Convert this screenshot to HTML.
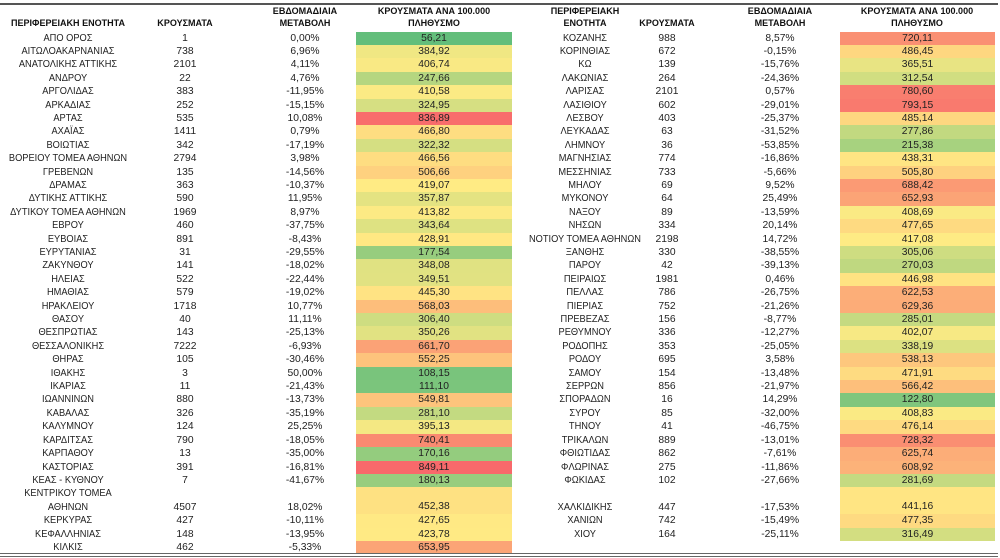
<!DOCTYPE html>
<html><head><meta charset="utf-8"><style>
html,body{margin:0;padding:0;background:#fff;}
body{width:1000px;height:558px;position:relative;overflow:hidden;font-family:"Liberation Sans Narrow","Liberation Sans","DejaVu Sans",sans-serif;color:#222;}
.top{position:absolute;left:0;top:3px;width:998px;height:2px;background:#555;}
.bot{position:absolute;left:0;top:553px;width:998px;height:1px;background:#666;}
.bot2{position:absolute;left:0;top:556px;width:998px;height:1px;background:#666;}
.h{position:absolute;font-weight:bold;font-size:9.5px;text-align:center;line-height:12px;color:#111;width:160px;transform:scaleX(0.95);}
#rows{position:absolute;left:0;top:31.5px;width:1000px;}
.r{position:relative;height:13.42px;font-size:10.3px;line-height:13.42px;}
.r span{position:absolute;top:0;width:150px;text-align:center;white-space:nowrap;}
.a,.e{transform:scaleX(0.9);}
.a{left:-7px}.b{left:110px}.d{left:230px}
.e{left:510px}.f{left:592px}.g{left:705px}
.c{left:356px;width:156px!important;}
.k{left:840px;width:155px!important;}
.c2{height:26.84px;line-height:40px;}
</style></head><body>
<div class="top"></div>
<div class="h" style="left:-12px;top:18px">ΠΕΡΙΦΕΡΕΙΑΚΗ ΕΝΟΤΗΤΑ</div>
<div class="h" style="left:105px;top:18px">ΚΡΟΥΣΜΑΤΑ</div>
<div class="h" style="left:225px;top:6px">ΕΒΔΟΜΑΔΙΑΙΑ<br>ΜΕΤΑΒΟΛΗ</div>
<div class="h" style="left:354px;top:6px">ΚΡΟΥΣΜΑΤΑ ΑΝΑ 100.000<br>ΠΛΗΘΥΣΜΟ</div>
<div class="h" style="left:505px;top:6px">ΠΕΡΙΦΕΡΕΙΑΚΗ<br>ΕΝΟΤΗΤΑ</div>
<div class="h" style="left:587px;top:18px">ΚΡΟΥΣΜΑΤΑ</div>
<div class="h" style="left:700px;top:6px">ΕΒΔΟΜΑΔΙΑΙΑ<br>ΜΕΤΑΒΟΛΗ</div>
<div class="h" style="left:837px;top:6px">ΚΡΟΥΣΜΑΤΑ ΑΝΑ 100.000<br>ΠΛΗΘΥΣΜΟ</div>
<div id="rows">
<div class="r"><span class="a">ΑΠΟ ΟΡΟΣ</span><span class="b">1</span><span class="d">0,00%</span><span class="c">56,21</span><span class="e">ΚΟΖΑΝΗΣ</span><span class="f">988</span><span class="g">8,57%</span><span class="k">720,11</span></div>
<div class="r"><span class="a">ΑΙΤΩΛΟΑΚΑΡΝΑΝΙΑΣ</span><span class="b">738</span><span class="d">6,96%</span><span class="c">384,92</span><span class="e">ΚΟΡΙΝΘΙΑΣ</span><span class="f">672</span><span class="g">-0,15%</span><span class="k">486,45</span></div>
<div class="r"><span class="a">ΑΝΑΤΟΛΙΚΗΣ ΑΤΤΙΚΗΣ</span><span class="b">2101</span><span class="d">4,11%</span><span class="c">406,74</span><span class="e">ΚΩ</span><span class="f">139</span><span class="g">-15,76%</span><span class="k">365,51</span></div>
<div class="r"><span class="a">ΑΝΔΡΟΥ</span><span class="b">22</span><span class="d">4,76%</span><span class="c">247,66</span><span class="e">ΛΑΚΩΝΙΑΣ</span><span class="f">264</span><span class="g">-24,36%</span><span class="k">312,54</span></div>
<div class="r"><span class="a">ΑΡΓΟΛΙΔΑΣ</span><span class="b">383</span><span class="d">-11,95%</span><span class="c">410,58</span><span class="e">ΛΑΡΙΣΑΣ</span><span class="f">2101</span><span class="g">0,57%</span><span class="k">780,60</span></div>
<div class="r"><span class="a">ΑΡΚΑΔΙΑΣ</span><span class="b">252</span><span class="d">-15,15%</span><span class="c">324,95</span><span class="e">ΛΑΣΙΘΙΟΥ</span><span class="f">602</span><span class="g">-29,01%</span><span class="k">793,15</span></div>
<div class="r"><span class="a">ΑΡΤΑΣ</span><span class="b">535</span><span class="d">10,08%</span><span class="c">836,89</span><span class="e">ΛΕΣΒΟΥ</span><span class="f">403</span><span class="g">-25,37%</span><span class="k">485,14</span></div>
<div class="r"><span class="a">ΑΧΑΪΑΣ</span><span class="b">1411</span><span class="d">0,79%</span><span class="c">466,80</span><span class="e">ΛΕΥΚΑΔΑΣ</span><span class="f">63</span><span class="g">-31,52%</span><span class="k">277,86</span></div>
<div class="r"><span class="a">ΒΟΙΩΤΙΑΣ</span><span class="b">342</span><span class="d">-17,19%</span><span class="c">322,32</span><span class="e">ΛΗΜΝΟΥ</span><span class="f">36</span><span class="g">-53,85%</span><span class="k">215,38</span></div>
<div class="r"><span class="a">ΒΟΡΕΙΟΥ ΤΟΜΕΑ ΑΘΗΝΩΝ</span><span class="b">2794</span><span class="d">3,98%</span><span class="c">466,56</span><span class="e">ΜΑΓΝΗΣΙΑΣ</span><span class="f">774</span><span class="g">-16,86%</span><span class="k">438,31</span></div>
<div class="r"><span class="a">ΓΡΕΒΕΝΩΝ</span><span class="b">135</span><span class="d">-14,56%</span><span class="c">506,66</span><span class="e">ΜΕΣΣΗΝΙΑΣ</span><span class="f">733</span><span class="g">-5,66%</span><span class="k">505,80</span></div>
<div class="r"><span class="a">ΔΡΑΜΑΣ</span><span class="b">363</span><span class="d">-10,37%</span><span class="c">419,07</span><span class="e">ΜΗΛΟΥ</span><span class="f">69</span><span class="g">9,52%</span><span class="k">688,42</span></div>
<div class="r"><span class="a">ΔΥΤΙΚΗΣ ΑΤΤΙΚΗΣ</span><span class="b">590</span><span class="d">11,95%</span><span class="c">357,87</span><span class="e">ΜΥΚΟΝΟΥ</span><span class="f">64</span><span class="g">25,49%</span><span class="k">652,93</span></div>
<div class="r"><span class="a">ΔΥΤΙΚΟΥ ΤΟΜΕΑ ΑΘΗΝΩΝ</span><span class="b">1969</span><span class="d">8,97%</span><span class="c">413,82</span><span class="e">ΝΑΞΟΥ</span><span class="f">89</span><span class="g">-13,59%</span><span class="k">408,69</span></div>
<div class="r"><span class="a">ΕΒΡΟΥ</span><span class="b">460</span><span class="d">-37,75%</span><span class="c">343,64</span><span class="e">ΝΗΣΩΝ</span><span class="f">334</span><span class="g">20,14%</span><span class="k">477,65</span></div>
<div class="r"><span class="a">ΕΥΒΟΙΑΣ</span><span class="b">891</span><span class="d">-8,43%</span><span class="c">428,91</span><span class="e">ΝΟΤΙΟΥ ΤΟΜΕΑ ΑΘΗΝΩΝ</span><span class="f">2198</span><span class="g">14,72%</span><span class="k">417,08</span></div>
<div class="r"><span class="a">ΕΥΡΥΤΑΝΙΑΣ</span><span class="b">31</span><span class="d">-29,55%</span><span class="c">177,54</span><span class="e">ΞΑΝΘΗΣ</span><span class="f">330</span><span class="g">-38,55%</span><span class="k">305,06</span></div>
<div class="r"><span class="a">ΖΑΚΥΝΘΟΥ</span><span class="b">141</span><span class="d">-18,02%</span><span class="c">348,08</span><span class="e">ΠΑΡΟΥ</span><span class="f">42</span><span class="g">-39,13%</span><span class="k">270,03</span></div>
<div class="r"><span class="a">ΗΛΕΙΑΣ</span><span class="b">522</span><span class="d">-22,44%</span><span class="c">349,51</span><span class="e">ΠΕΙΡΑΙΩΣ</span><span class="f">1981</span><span class="g">0,46%</span><span class="k">446,98</span></div>
<div class="r"><span class="a">ΗΜΑΘΙΑΣ</span><span class="b">579</span><span class="d">-19,02%</span><span class="c">445,30</span><span class="e">ΠΕΛΛΑΣ</span><span class="f">786</span><span class="g">-26,75%</span><span class="k">622,53</span></div>
<div class="r"><span class="a">ΗΡΑΚΛΕΙΟΥ</span><span class="b">1718</span><span class="d">10,77%</span><span class="c">568,03</span><span class="e">ΠΙΕΡΙΑΣ</span><span class="f">752</span><span class="g">-21,26%</span><span class="k">629,36</span></div>
<div class="r"><span class="a">ΘΑΣΟΥ</span><span class="b">40</span><span class="d">11,11%</span><span class="c">306,40</span><span class="e">ΠΡΕΒΕΖΑΣ</span><span class="f">156</span><span class="g">-8,77%</span><span class="k">285,01</span></div>
<div class="r"><span class="a">ΘΕΣΠΡΩΤΙΑΣ</span><span class="b">143</span><span class="d">-25,13%</span><span class="c">350,26</span><span class="e">ΡΕΘΥΜΝΟΥ</span><span class="f">336</span><span class="g">-12,27%</span><span class="k">402,07</span></div>
<div class="r"><span class="a">ΘΕΣΣΑΛΟΝΙΚΗΣ</span><span class="b">7222</span><span class="d">-6,93%</span><span class="c">661,70</span><span class="e">ΡΟΔΟΠΗΣ</span><span class="f">353</span><span class="g">-25,05%</span><span class="k">338,19</span></div>
<div class="r"><span class="a">ΘΗΡΑΣ</span><span class="b">105</span><span class="d">-30,46%</span><span class="c">552,25</span><span class="e">ΡΟΔΟΥ</span><span class="f">695</span><span class="g">3,58%</span><span class="k">538,13</span></div>
<div class="r"><span class="a">ΙΘΑΚΗΣ</span><span class="b">3</span><span class="d">50,00%</span><span class="c">108,15</span><span class="e">ΣΑΜΟΥ</span><span class="f">154</span><span class="g">-13,48%</span><span class="k">471,91</span></div>
<div class="r"><span class="a">ΙΚΑΡΙΑΣ</span><span class="b">11</span><span class="d">-21,43%</span><span class="c">111,10</span><span class="e">ΣΕΡΡΩΝ</span><span class="f">856</span><span class="g">-21,97%</span><span class="k">566,42</span></div>
<div class="r"><span class="a">ΙΩΑΝΝΙΝΩΝ</span><span class="b">880</span><span class="d">-13,73%</span><span class="c">549,81</span><span class="e">ΣΠΟΡΑΔΩΝ</span><span class="f">16</span><span class="g">14,29%</span><span class="k">122,80</span></div>
<div class="r"><span class="a">ΚΑΒΑΛΑΣ</span><span class="b">326</span><span class="d">-35,19%</span><span class="c">281,10</span><span class="e">ΣΥΡΟΥ</span><span class="f">85</span><span class="g">-32,00%</span><span class="k">408,83</span></div>
<div class="r"><span class="a">ΚΑΛΥΜΝΟΥ</span><span class="b">124</span><span class="d">25,25%</span><span class="c">395,13</span><span class="e">ΤΗΝΟΥ</span><span class="f">41</span><span class="g">-46,75%</span><span class="k">476,14</span></div>
<div class="r"><span class="a">ΚΑΡΔΙΤΣΑΣ</span><span class="b">790</span><span class="d">-18,05%</span><span class="c">740,41</span><span class="e">ΤΡΙΚΑΛΩΝ</span><span class="f">889</span><span class="g">-13,01%</span><span class="k">728,32</span></div>
<div class="r"><span class="a">ΚΑΡΠΑΘΟΥ</span><span class="b">13</span><span class="d">-35,00%</span><span class="c">170,16</span><span class="e">ΦΘΙΩΤΙΔΑΣ</span><span class="f">862</span><span class="g">-7,61%</span><span class="k">625,74</span></div>
<div class="r"><span class="a">ΚΑΣΤΟΡΙΑΣ</span><span class="b">391</span><span class="d">-16,81%</span><span class="c">849,11</span><span class="e">ΦΛΩΡΙΝΑΣ</span><span class="f">275</span><span class="g">-11,86%</span><span class="k">608,92</span></div>
<div class="r"><span class="a">ΚΕΑΣ - ΚΥΘΝΟΥ</span><span class="b">7</span><span class="d">-41,67%</span><span class="c">180,13</span><span class="e">ΦΩΚΙΔΑΣ</span><span class="f">102</span><span class="g">-27,66%</span><span class="k">281,69</span></div>
<div class="r"><span class="a">ΚΕΝΤΡΙΚΟΥ ΤΟΜΕΑ</span><span class="c c2">452,38</span><span class="k c2">441,16</span></div>
<div class="r"><span class="a">ΑΘΗΝΩΝ</span><span class="b">4507</span><span class="d">18,02%</span><span class="e">ΧΑΛΚΙΔΙΚΗΣ</span><span class="f">447</span><span class="g">-17,53%</span></div>
<div class="r"><span class="a">ΚΕΡΚΥΡΑΣ</span><span class="b">427</span><span class="d">-10,11%</span><span class="c">427,65</span><span class="e">ΧΑΝΙΩΝ</span><span class="f">742</span><span class="g">-15,49%</span><span class="k">477,35</span></div>
<div class="r"><span class="a">ΚΕΦΑΛΛΗΝΙΑΣ</span><span class="b">148</span><span class="d">-13,95%</span><span class="c">423,78</span><span class="e">ΧΙΟΥ</span><span class="f">164</span><span class="g">-25,11%</span><span class="k">316,49</span></div>
<div class="r"><span class="a">ΚΙΛΚΙΣ</span><span class="b">462</span><span class="d">-5,33%</span><span class="c">653,95</span></div>
</div>
<div class="bot"></div><div class="bot2"></div>
<script>
(function(){
var mn=56.21,mx=849.11,md=420;
var G=[99,190,123],Y=[255,235,132],R=[248,105,107];
function mix(a,b,t){return [0,1,2].map(function(i){return Math.round(a[i]+(b[i]-a[i])*t);});}
var els=document.querySelectorAll('.c,.k');
for(var i=0;i<els.length;i++){
var v=parseFloat(els[i].textContent.replace(',','.'));
var c=v<=md?mix(G,Y,(v-mn)/(md-mn)):mix(Y,R,Math.min(1,(v-md)/(mx-md)));
els[i].style.background='rgb('+c.join(',')+')';
}
})();
</script>
</body></html>
